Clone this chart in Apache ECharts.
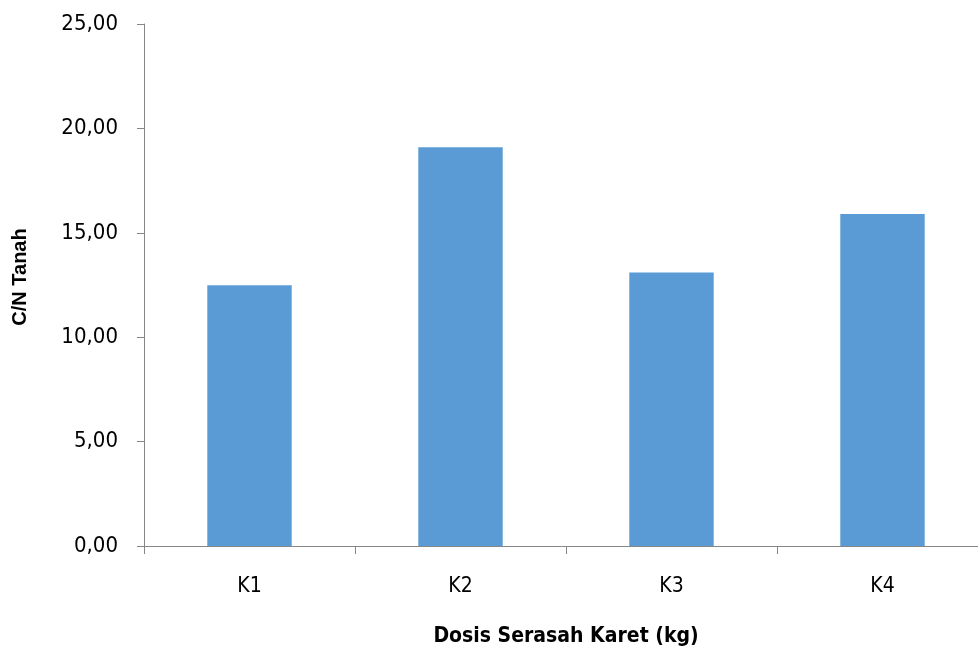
<!DOCTYPE html>
<html>
<head>
<meta charset="utf-8">
<script src="https://cdn.jsdelivr.net/npm/echarts@6/dist/echarts.min.js"></script>
<style>
  html, body { margin: 0; padding: 0; background: #ffffff; }
  #chart { width: 978px; height: 653px; }
</style>
</head>
<body>
<div id="chart"></div>
<script>
// C/N ratio of soil for each dose of rubber leaf litter
const categories = ['K1', 'K2', 'K3', 'K4'];
const cnValues = [12.49, 19.10, 13.10, 15.90];
const xTitle = 'Dosis Serasah Karet (kg)';
const yTitle = 'C/N Tanah';

const chart = echarts.init(document.getElementById('chart'), null, { renderer: 'canvas' });

const axisGray = '#868686';
const narrowFont = '"DejaVu Sans Condensed", "Liberation Sans Narrow", sans-serif';

chart.setOption({
  animation: false,
  backgroundColor: '#ffffff',
  // plot area runs slightly past the right edge of the canvas
  grid: {
    left: 144, width: 844, top: 24, bottom: 107,
    containLabel: false,
    outerBoundsMode: 'none'
  },
  xAxis: {
    type: 'category',
    data: categories,
    boundaryGap: true,
    name: xTitle,
    nameLocation: 'middle',
    nameGap: 80,
    nameTextStyle: { fontFamily: narrowFont, fontWeight: 'bold', fontSize: 21, color: '#000000' },
    axisLine: { show: true, lineStyle: { color: axisGray, width: 1 } },
    axisTick: { show: true, alignWithLabel: false, length: 8, inside: false, lineStyle: { color: axisGray } },
    axisLabel: { fontFamily: narrowFont, fontSize: 21, color: '#000000', margin: 30 },
    splitLine: { show: false }
  },
  yAxis: {
    type: 'value',
    min: 0,
    max: 25,
    interval: 5,
    name: yTitle,
    nameLocation: 'middle',
    nameGap: 114,
    nameRotate: 90,
    nameTextStyle: {
      fontFamily: '"Liberation Sans", Arial, sans-serif',
      fontWeight: 'bold',
      fontSize: 20,
      color: '#000000',
      padding: [0, 0, 0, 16]
    },
    axisLine: { show: true, lineStyle: { color: axisGray, width: 1 } },
    axisTick: { show: true, length: 7, inside: false, lineStyle: { color: axisGray } },
    axisLabel: {
      fontFamily: narrowFont,
      fontSize: 22,
      color: '#000000',
      margin: 26,
      formatter: v => v.toFixed(2).replace('.', ',')
    },
    splitLine: { show: false }
  },
  series: [{
    type: 'bar',
    data: cnValues,
    barWidth: '40%',
    itemStyle: { color: '#5B9BD5' }
  }]
});
</script>
</body>
</html>
